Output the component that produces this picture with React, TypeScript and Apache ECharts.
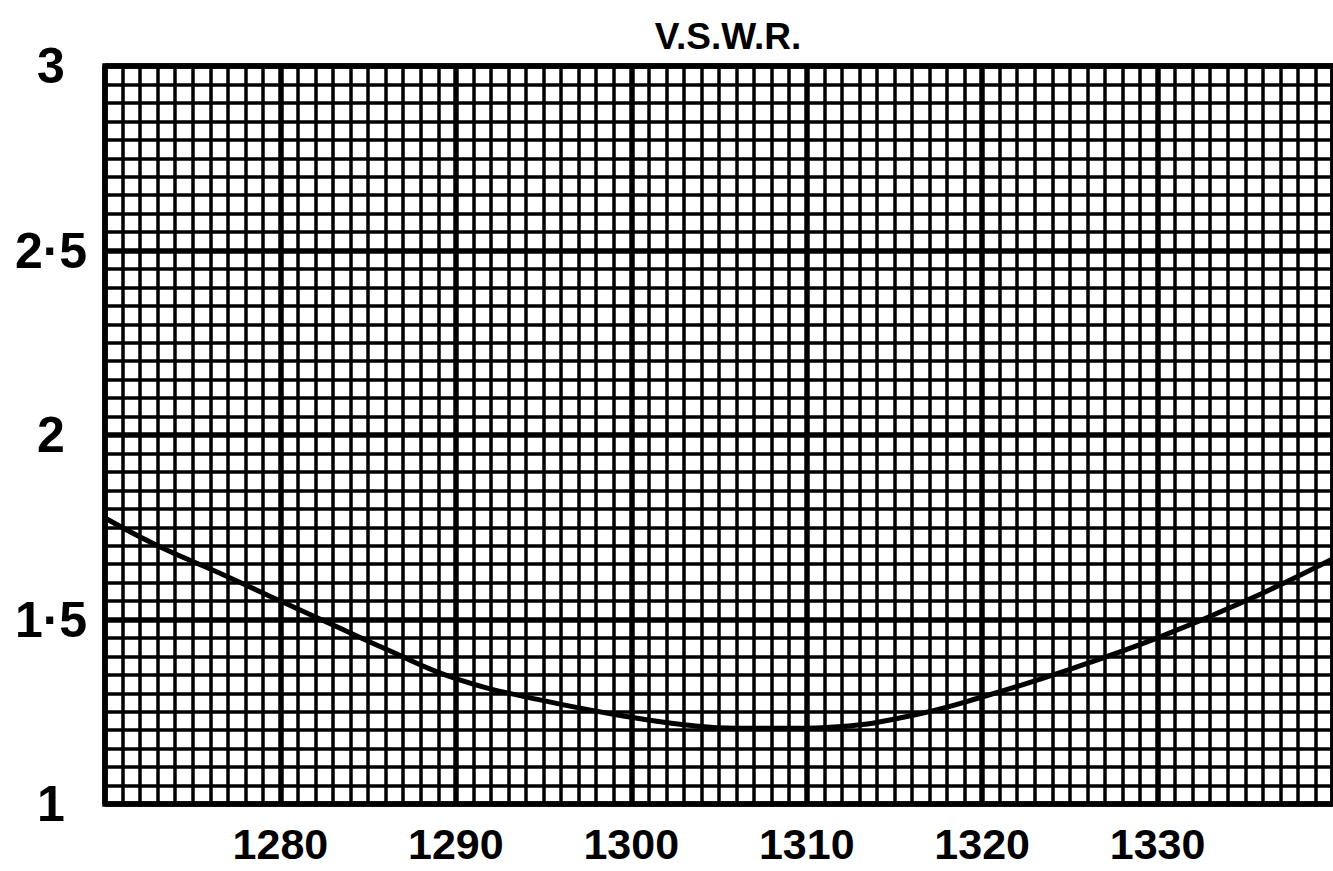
import { useEffect, useRef } from "react";
import * as echarts from "echarts";

const chartTitle = "V.S.W.R.";
// frequency (x) and V.S.W.R. (y)
const freq = [1270, 1273, 1276.8, 1280, 1283, 1286, 1290, 1295, 1300, 1303, 1306, 1309, 1312, 1316, 1320, 1325, 1330, 1335, 1340];
const vswr = [1.775, 1.7, 1.62, 1.55, 1.485, 1.42, 1.34, 1.28, 1.235, 1.215, 1.205, 1.205, 1.21, 1.24, 1.29, 1.365, 1.45, 1.55, 1.665];
const xTickLabels = ["1280", "1290", "1300", "1310", "1320", "1330"];
const yTickLabels = ["1", "1·5", "2", "2·5", "3"];

const FONT = "'Liberation Sans', Arial, Helvetica, sans-serif";

export default function App() {
  const ref = useRef<HTMLDivElement>(null);
  useEffect(() => {
    if (!ref.current) return;
    const chart = echarts.init(ref.current, undefined, { renderer: "svg" });
    const data = freq.map((f, i) => [f, vswr[i]]);
    chart.setOption({
      animation: false,
      backgroundColor: "#ffffff",
      title: {
        text: chartTitle,
        left: 723,
        textAlign: "center",
        top: 13,
        textStyle: { fontFamily: FONT, fontWeight: "bold", fontSize: 37, color: "#000" },
      },
      grid: {
        left: 105,
        top: 66,
        bottom: 67,
        right: -8.6,
        show: true,
        borderColor: "#000",
        borderWidth: 5.5,
        backgroundColor: "transparent",
      },
      xAxis: {
        type: "value",
        min: 1270,
        max: 1340,
        interval: 10,
        axisLine: { show: false },
        axisTick: { show: false },
        minorTick: { show: false, splitNumber: 10 },
        splitLine: { show: true, lineStyle: { color: "#000", width: 5.5 } },
        minorSplitLine: { show: true, lineStyle: { color: "#000", width: 3.5 } },
        axisLabel: {
          showMinLabel: false,
          showMaxLabel: false,
          margin: 18,
          fontFamily: FONT,
          fontWeight: "bold",
          fontSize: 43,
          color: "#000",
          formatter: (v: number) => {
            const s = String(Math.round(v));
            return xTickLabels.includes(s) ? s : "";
          },
        },
      },
      yAxis: {
        type: "value",
        min: 1,
        max: 3,
        interval: 0.5,
        axisLine: { show: false },
        axisTick: { show: false },
        minorTick: { show: false, splitNumber: 10 },
        splitLine: { show: true, lineStyle: { color: "#000", width: 5.5 } },
        minorSplitLine: { show: true, lineStyle: { color: "#000", width: 3.5 } },
        axisLabel: {
          margin: 54,
          align: "center",
          fontFamily: FONT,
          fontWeight: "bold",
          fontSize: 50,
          color: "#000",
          formatter: (v: number) => {
            const idx = Math.round((v - 1) / 0.5);
            return yTickLabels[idx] ?? "";
          },
        },
      },
      series: [
        {
          type: "line",
          data,
          smooth: 0.45,
          showSymbol: false,
          clip: true,
          lineStyle: { color: "#000", width: 5 },
        },
      ],
    });
    return () => chart.dispose();
  }, []);
  return (
    <div
      ref={ref}
      style={{ position: "fixed", left: 0, top: 0, width: 1333, height: 871, background: "#fff" }}
    />
  );
}
